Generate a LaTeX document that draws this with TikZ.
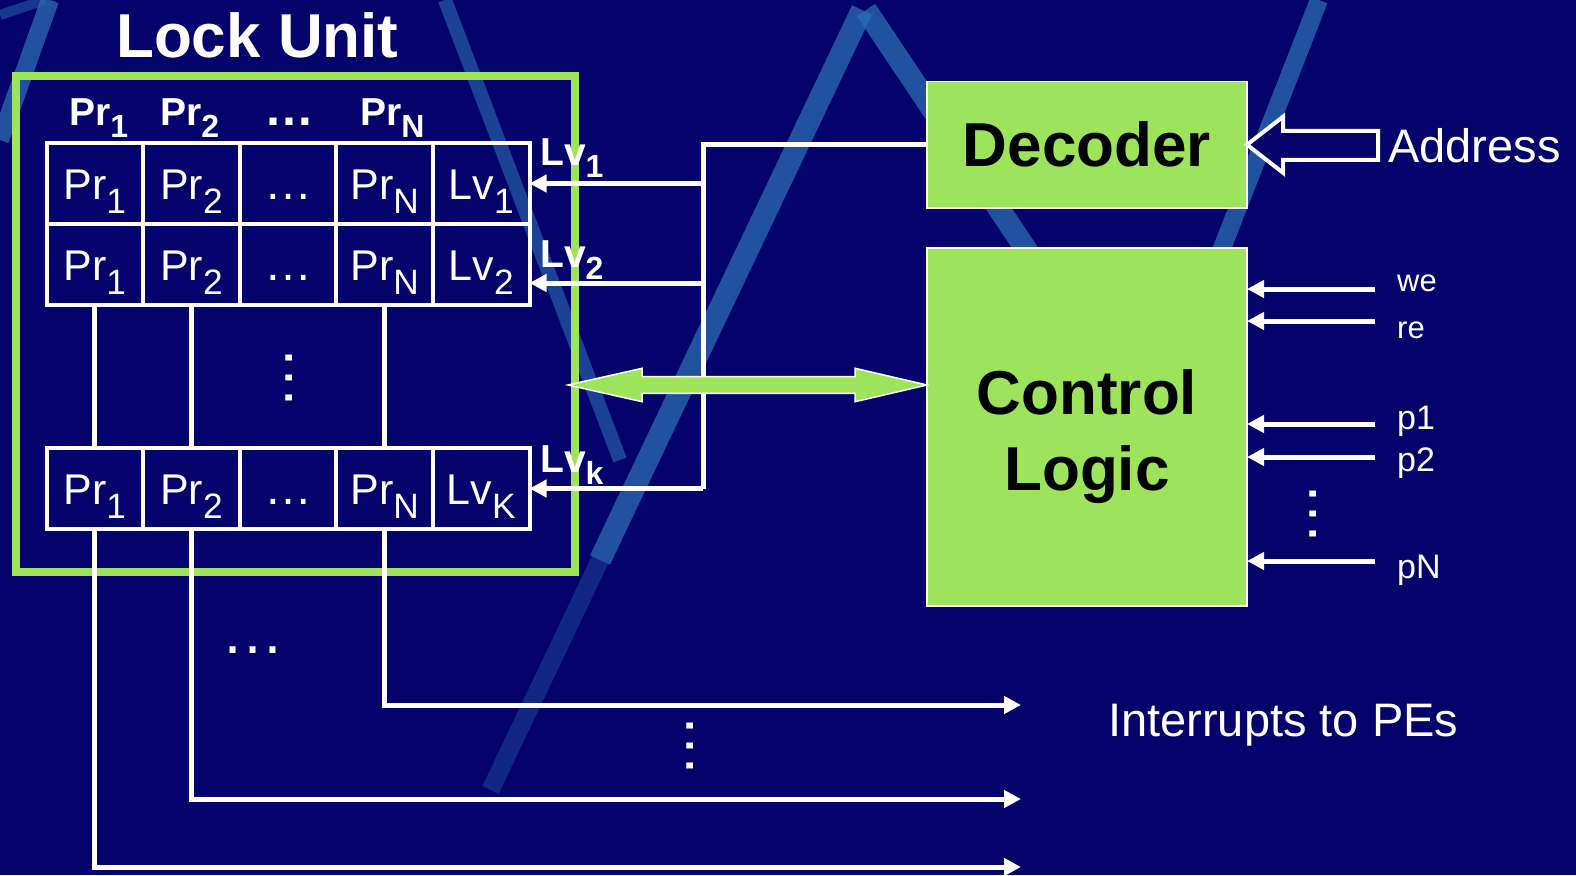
\documentclass[tikz,border=0pt]{standalone}
\usepackage{fontspec}
\setmainfont{Liberation Sans}
\usetikzlibrary{arrows.meta, positioning, calc}
\definecolor{bgNavy}{HTML}{03036B}
\definecolor{stripeBlue}{HTML}{2C6DB2}
\definecolor{unitGreen}{HTML}{9DE35B}
\newcommand{\lsub}[1]{\raisebox{-.33em}{\scalebox{.82}{#1}}}
\newcommand{\elli}[1]{{\fontsize{#1}{#1}\selectfont …}}

\begin{document}
\begin{tikzpicture}[
    x=1pt, y=-1pt,
    cell/.style={rectangle, draw=white, line width=4pt, minimum width=96.6pt, minimum height=81pt,
                 inner sep=0pt, outer sep=0pt, text=white, text height=31pt, text depth=0pt,
                 font=\fontsize{43}{50}\selectfont},
    hdr/.style={text=white, inner sep=0pt, font=\fontsize{39}{46}\selectfont\bfseries},
    sig/.style={text=white, inner sep=0pt, font=\fontsize{31}{36}\selectfont},
    big/.style={text=white, inner sep=0pt, font=\fontsize{47}{56}\selectfont},
    vdots/.style={text=white, inner sep=0pt, rotate=90},
    unit_box/.style={rectangle, fill=unitGreen, draw=white, line width=1.5pt, inner sep=0pt,
                     outer sep=0pt, minimum width=320pt, font=\fontsize{62}{76}\selectfont\bfseries},
    frame/.style={rectangle, draw=unitGreen, line width=8pt, inner sep=0pt},
    bus/.style={white, line width=5pt},
    arrow/.style={-{Triangle[length=17pt, width=17pt]}, white, line width=5pt},
    stripe/.style={stripeBlue, line width=18pt, opacity=.75},
    dbl_arrow/.style={fill=unitGreen, draw=white, line width=1.5pt, line join=miter},
    hollow_arrow/.style={fill=bgNavy, draw=white, line width=4pt, line join=miter}
]

% Background
\useasboundingbox (0,0) rectangle (1576,875);
\fill[bgNavy] (0,0) rectangle (1576,875);
\draw[stripe, line width=10pt, opacity=.5] (0,15) -- (45,0);
\draw[stripe] (50,0) -- (0,140);
\draw[stripe, line width=14pt, opacity=.6] (445,0) -- (620,460);
\draw[stripe, line width=22pt] (862,10) -- (600,560);
\draw[stripe, opacity=.35] (600,560) -- (490.5,790);
\draw[stripe, line width=22pt] (866,10) -- (1080,330);
\draw[stripe] (1319,0) -- (1190,330);

% Lock unit
\node[frame, minimum width=559pt, minimum height=495.5pt] (lock) at (295.5,323.75) {};
\node[text=white, inner sep=0pt, anchor=base west, font=\fontsize{62}{70}\selectfont\bfseries] (title) at (116,57) {Lock Unit};

\node[hdr, anchor=base west] (h1) at (69,125) {Pr\lsub{1}};
\node[hdr, anchor=base west] (h2) at (160,125) {Pr\lsub{2}};
\node[hdr, anchor=base west] (h3) at (264,125) {\elli{50}};
\node[hdr, anchor=base west] (h4) at (360,125) {Pr\lsub{N}};

% Lock rows
\node[cell, anchor=north west] (c11) at (46.5,143) {Pr\lsub{1}};
\node[cell, right=0pt of c11] (c12) {Pr\lsub{2}};
\node[cell, right=0pt of c12] (c13) {\elli{48}};
\node[cell, right=0pt of c13] (c14) {Pr\lsub{N}};
\node[cell, right=0pt of c14] (c15) {Lv\lsub{1}};

\node[cell, below=0pt of c11] (c21) {Pr\lsub{1}};
\node[cell, right=0pt of c21] (c22) {Pr\lsub{2}};
\node[cell, right=0pt of c22] (c23) {\elli{48}};
\node[cell, right=0pt of c23] (c24) {Pr\lsub{N}};
\node[cell, right=0pt of c24] (c25) {Lv\lsub{2}};

\node[cell, anchor=north west] (ck1) at (46.5,448) {Pr\lsub{1}};
\node[cell, right=0pt of ck1] (ck2) {Pr\lsub{2}};
\node[cell, right=0pt of ck2] (ck3) {\elli{48}};
\node[cell, right=0pt of ck3] (ck4) {Pr\lsub{N}};
\node[cell, right=0pt of ck4] (ck5) {Lv\lsub{K}};

\node[vdots] (rowDots) at (289,378) {\elli{63}};

\node[hdr, anchor=base west] (lv1) at (540,165) {Lv\lsub{1}};
\node[hdr, anchor=base west] (lv2) at (540,267) {Lv\lsub{2}};
\node[hdr, anchor=base west] (lvk) at (540,472) {Lv\lsub{k}};

% Decoder and control logic
\node[unit_box, minimum height=126.5pt, anchor=north west] (dec) at (927,81.5) {Decoder};
\node[unit_box, minimum height=358pt, below=40pt of dec] (ctrl) {};
\node[unit_box, draw=none, fill=none, minimum width=0pt, align=center] (ctrlText) at ($(ctrl.center)+(0,10)$) {Control\\Logic};

% Level bus
\coordinate (bus) at (703,0);
\draw[bus] (dec.west) -| (ck5.east -| bus);
\draw[arrow] (c15.east -| bus) -- (c15.east);
\coordinate (lv2In) at ($(c25.east)+(0,18.5)$);
\draw[arrow] (lv2In -| bus) -- (lv2In);
\draw[arrow] (ck5.east -| bus) -- (ck5.east);

% Data path
\coordinate (dblL) at (568,385);
\coordinate (dblR) at (ctrl.west |- dblL);
\draw[dbl_arrow] (dblL) -- ++(74,-16.7) -- ++(0,8.4) -- ($(dblR)+(-72,-8.3)$) -- ++(0,-8.4) -- (dblR)
    -- ++(-72,16.7) -- ++(0,-8.4) -- ($(dblL)+(74,8.3)$) -- ++(0,8.4) -- cycle;

% Address
\draw[hollow_arrow] (dec.east) -- ++(36,-28) -- ++(0,14) -- ++(95,0) -- ++(0,29) -- ++(-95,0) -- ++(0,13) -- cycle;
\node[big, anchor=base west] (addr) at (1388,162) {Address};

% Control inputs
\coordinate (weIn) at (1375,289);
\coordinate (reIn) at (1375,321);
\coordinate (p1In) at (1375,424);
\coordinate (p2In) at (1375,457);
\coordinate (pNIn) at (1375,561);
\draw[arrow] (weIn) -- (weIn -| ctrl.east);
\draw[arrow] (reIn) -- (reIn -| ctrl.east);
\draw[arrow] (p1In) -- (p1In -| ctrl.east);
\draw[arrow] (p2In) -- (p2In -| ctrl.east);
\draw[arrow] (pNIn) -- (pNIn -| ctrl.east);
\node[sig, anchor=base west] (we) at (1397,291) {we};
\node[sig, anchor=base west] (re) at (1397,338) {re};
\node[sig, anchor=base west, font=\fontsize{34}{40}\selectfont] (p1) at (1397,429) {p1};
\node[sig, anchor=base west, font=\fontsize{34}{40}\selectfont] (p2) at (1397,471) {p2};
\node[sig, anchor=base west, font=\fontsize{34}{40}\selectfont] (pN) at (1397,578) {pN};
\node[vdots] (pDots) at (1313,514) {\elli{63}};

% Interrupts
\draw[bus] (c21.south) -- (c21.south |- ck1.north);
\draw[bus] (c22.south) -- (c22.south |- ck2.north);
\draw[bus] (c24.south) -- (c24.south |- ck4.north);
\coordinate (irqN) at (1021,705);
\coordinate (irq2) at (1021,799);
\coordinate (irq1) at (1021,867);
\draw[arrow] (ck4.south) |- (irqN);
\draw[arrow] (ck2.south) |- (irq2);
\draw[arrow] (ck1.south) |- (irq1);
\node[text=white, inner sep=0pt, anchor=base] (colDots) at (253,653) {\elli{63}};
\node[vdots] (irqDots) at (690,746) {\elli{63}};
\node[big, anchor=base west] (irqText) at (1108,736) {Interrupts to PEs};

\end{tikzpicture}
\end{document}
